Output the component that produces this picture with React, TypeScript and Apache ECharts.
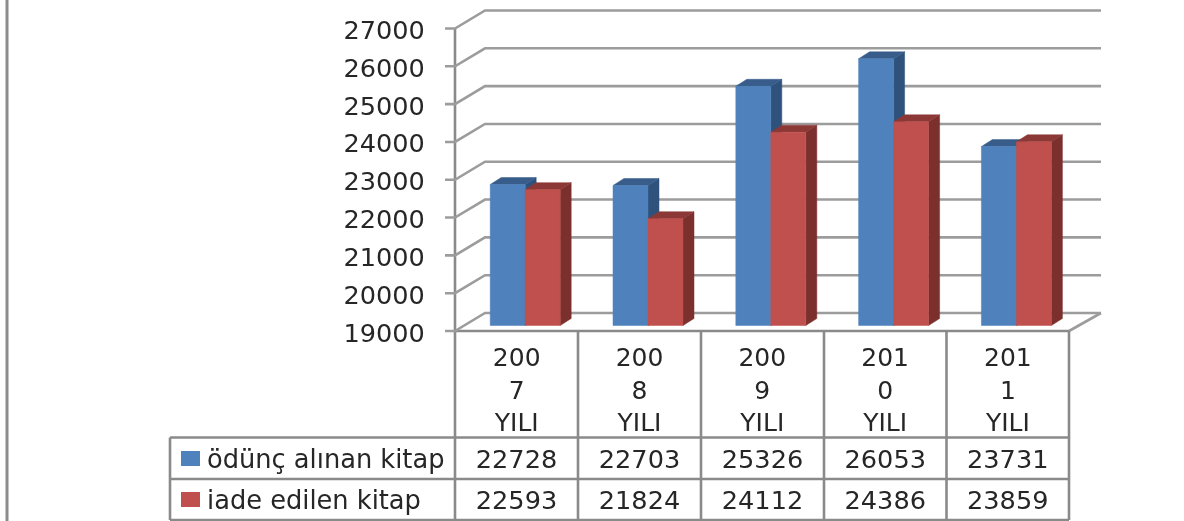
import React, { useEffect, useRef } from "react";
import * as echarts from "echarts";

const categories = ["200\n7\nYILI", "200\n8\nYILI", "200\n9\nYILI", "201\n0\nYILI", "201\n1\nYILI"];
const seriesNames = ["ödünç alınan kitap", "iade edilen kitap"];
const borrowed = [22728, 22703, 25326, 26053, 23731];
const returned = [22593, 21824, 24112, 24386, 23859];
const yTicks = [19000, 20000, 21000, 22000, 23000, 24000, 25000, 26000, 27000];

const GRAY = "#9c9c9c";
const AXIS_GRAY = "#8a8a8a";
const NUM_FONT = "DejaVu Sans";
const TEXT_COLOR = "#262626";

const GRID = { left: 463.8, top: 23, width: 614, height: 302.5 };
const DEPTH_X = 11;
const DEPTH_Y = 7;
const BAR_RATIO = 0.285;
const FRONT_X = 455;
const FRONT_Y = 331;
const BACK_DX = 30;
const BACK_DY = 18;
const RIGHT_FRONT = 1069;
const RIGHT_BACK = 1101;
const TABLE_LEFT = 170;
const ROW_LINES = [437.5, 479, 520];
const COL_LINES = [455, 578, 701, 824, 946.5, 1069];

const bar3d = (shift: number, front: string, side: string, top: string) => (params: any, api: any) => {
  const i = api.value(0);
  const [cx, y] = api.coord([i, api.value(1)]);
  const [, y0] = api.coord([i, 19000]);
  const w = api.size([1, 0])[0] * BAR_RATIO;
  const x = cx + shift * w;
  const fill = (color: string) => ({ fill: color, stroke: color, lineWidth: 0.5 });
  return {
    type: "group",
    children: [
      {
        type: "polygon",
        shape: { points: [[x + w, y], [x + w + DEPTH_X, y - DEPTH_Y], [x + w + DEPTH_X, y0 - DEPTH_Y], [x + w, y0]] },
        style: fill(side),
      },
      {
        type: "polygon",
        shape: { points: [[x, y], [x + DEPTH_X, y - DEPTH_Y], [x + w + DEPTH_X, y - DEPTH_Y], [x + w, y]] },
        style: fill(top),
      },
      { type: "rect", shape: { x, y, width: w, height: y0 - y }, style: fill(front) },
    ],
  };
};

const wall = (params: any, api: any) => {
  const [, c] = api.coord([0, api.value(1)]);
  const fy = c + (FRONT_Y - (GRID.top + GRID.height));
  return {
    type: "polyline",
    shape: {
      points: [
        [FRONT_X - 10, fy],
        [FRONT_X, fy],
        [FRONT_X + BACK_DX, fy - BACK_DY],
        [RIGHT_BACK, fy - BACK_DY],
      ],
    },
    style: { fill: "none", stroke: GRAY, lineWidth: 2.6 },
  };
};

const line = (x1: number, y1: number, x2: number, y2: number, color = AXIS_GRAY, w = 2.6) => ({
  type: "line",
  shape: { x1, y1, x2, y2 },
  style: { stroke: color, lineWidth: w },
});

const cell = (x: number, y: number, text: string) => ({
  type: "text",
  x,
  y,
  style: {
    text,
    fill: TEXT_COLOR,
    font: `25.6px "${NUM_FONT}"`,
    align: "center",
    verticalAlign: "middle",
  },
});

export default function App() {
  const ref = useRef<HTMLDivElement>(null);
  useEffect(() => {
    const chart = echarts.init(ref.current!, undefined, { renderer: "svg" });
    const elements: any[] = [
      line(7, 0, 7, 521, "#8c8c8c", 3),
      line(FRONT_X, 28, FRONT_X, ROW_LINES[2]),
      line(FRONT_X, FRONT_Y, RIGHT_FRONT, FRONT_Y),
      line(RIGHT_FRONT, FRONT_Y, RIGHT_BACK, FRONT_Y - BACK_DY, GRAY),
      line(TABLE_LEFT, ROW_LINES[0], TABLE_LEFT, ROW_LINES[2]),
    ];
    ROW_LINES.forEach((y) => elements.push(line(TABLE_LEFT, y, RIGHT_FRONT, y)));
    COL_LINES.slice(1).forEach((x) => elements.push(line(x, FRONT_Y, x, ROW_LINES[2])));
    [borrowed, returned].forEach((vals, r) => {
      vals.forEach((v, i) => {
        elements.push(cell((COL_LINES[i] + COL_LINES[i + 1]) / 2, r === 0 ? 458.5 : 500, String(v)));
      });
    });
    chart.setOption({
      animation: false,
      backgroundColor: "#ffffff",
      grid: { ...GRID },
      legend: {
        data: seriesNames,
        orient: "vertical",
        left: 181,
        top: 444,
        padding: 0,
        itemWidth: 19,
        itemHeight: 15,
        itemGap: 12,
        icon: "rect",
        selectedMode: false,
        textStyle: {
          fontFamily: NUM_FONT,
          fontSize: 25.7,
          color: TEXT_COLOR,
          padding: [0, 0, 0, 2],
          lineHeight: 29,
        },
      },
      xAxis: {
        type: "category",
        data: categories,
        axisLine: { show: false },
        axisTick: { show: false },
        splitLine: { show: false },
        axisLabel: {
          interval: 0,
          margin: 16,
          fontFamily: NUM_FONT,
          fontSize: 25,
          lineHeight: 32.5,
          color: TEXT_COLOR,
          padding: [0, 17, 0, 0],
        },
      },
      yAxis: {
        type: "value",
        min: 19000,
        max: 27000,
        interval: 1000,
        axisLine: { show: false },
        axisTick: { show: false },
        splitLine: { show: false },
        axisLabel: {
          margin: 39,
          fontFamily: NUM_FONT,
          fontSize: 25.6,
          color: TEXT_COLOR,
          verticalAlign: "top",
          lineHeight: 14,
          formatter: (v: number) => String(v),
        },
      },
      graphic: { elements },
      series: [
        {
          type: "custom",
          name: "wall",
          z: 1,
          silent: true,
          renderItem: wall,
          encode: { x: 0, y: 1 },
          data: yTicks.map((v) => [0, v]),
        },
        {
          type: "custom",
          name: seriesNames[0],
          z: 3,
          itemStyle: { color: "#4f81bd" },
          renderItem: bar3d(-1, "#4f81bd", "#2f527c", "#385d8a"),
          encode: { x: 0, y: 1 },
          data: borrowed.map((v, i) => [i, v]),
        },
        {
          type: "custom",
          name: seriesNames[1],
          z: 4,
          itemStyle: { color: "#c0504d" },
          renderItem: bar3d(0, "#c0504d", "#7b302e", "#8c3836"),
          encode: { x: 0, y: 1 },
          data: returned.map((v, i) => [i, v]),
        },
      ],
    });
    return () => chart.dispose();
  }, []);
  return <div ref={ref} style={{ position: "absolute", left: 0, top: 0, width: 1184, height: 521, filter: "blur(0.45px)" }} />;
}
